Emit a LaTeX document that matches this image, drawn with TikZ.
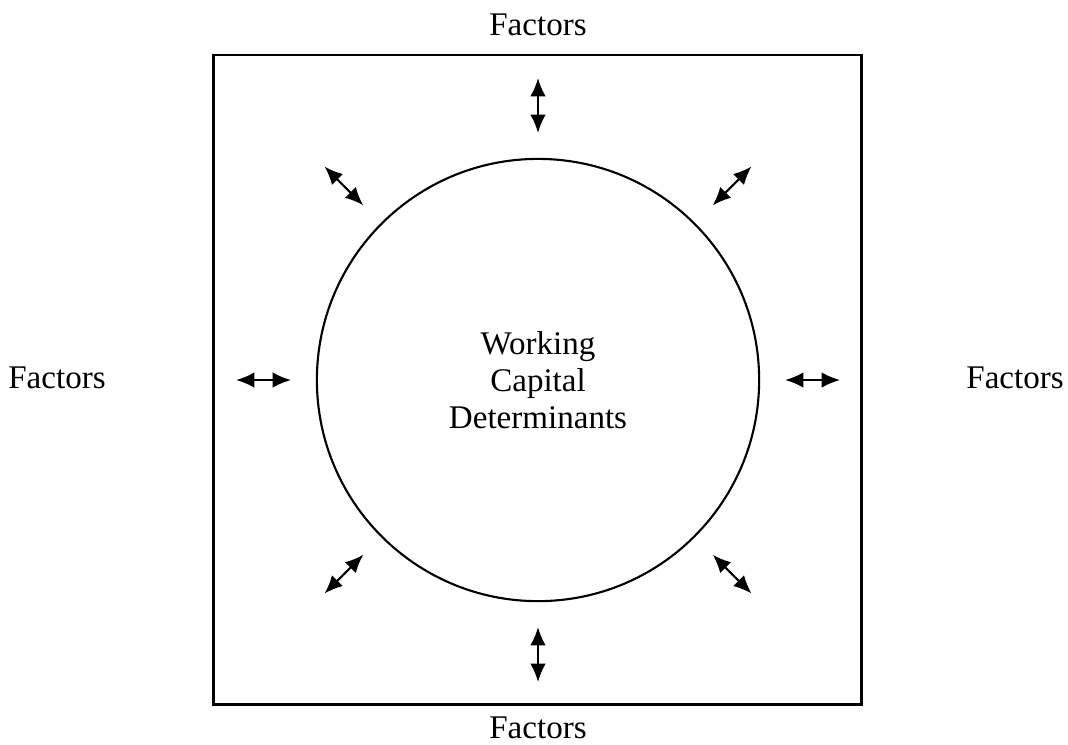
\documentclass[tikz,border=0pt]{standalone}
\usepackage{fontspec}
\setmainfont{Liberation Serif}
\usepackage{tikz}
\usetikzlibrary{arrows.meta}
\usetikzlibrary{calc}
\tikzstyle{label}=[font=\fontsize{9.4}{10.6}\selectfont,inner sep=0pt]
\tikzstyle{link}=[{Latex[length=5.2pt,width=4.4pt]}-{Latex[length=5.2pt,width=4.4pt]},line width=0.6pt]

\begin{document}
\begin{tikzpicture}[x=0.01cm,y=-0.01cm]
\useasboundingbox (0,0) rectangle (1068,744);
\node [draw,line width=0.75pt,minimum width=6.47cm,minimum height=6.49cm,inner sep=0pt] (frame) at (537.5,379.5) {};
\node [draw,circle,line width=0.6pt,minimum size=4.42cm,inner sep=0pt,label,align=center] (core) at (538,380) {Working\\Capital\\Determinants};
\node [label] (top) at (538,25) {Factors};
\node [label] (bottom) at (538,728) {Factors};
\node [label] (left) at (57,378) {Factors};
\node [label] (right) at (1015,378) {Factors};
\foreach \a in {0,45,...,315}{
  \coordinate (in\a) at ($(core.center)+(\a:247)$);
  \coordinate (out\a) at ($(core.center)+(\a:302)$);
  \draw [link] (in\a) -- (out\a);
}
\end{tikzpicture}
\end{document}
